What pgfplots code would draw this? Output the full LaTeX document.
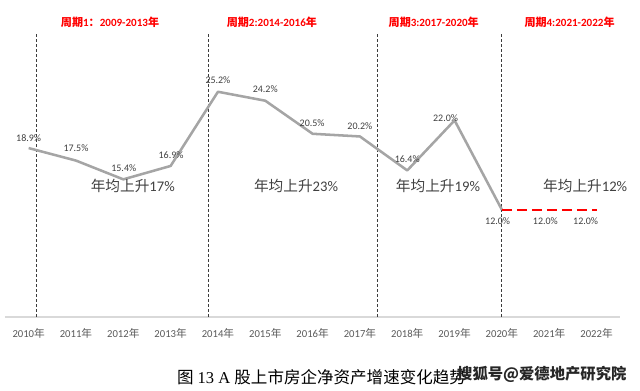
\documentclass[border=0pt]{standalone}
\usepackage{fontspec}
\setmainfont{Carlito}
\newfontfamily\cjk{Noto Sans CJK SC}
\newfontfamily\capserif{Liberation Serif}
\usepackage{pgfplots}
\pgfplotsset{compat=1.18}
\definecolor{lgray}{RGB}{165,165,165}
\definecolor{axgray}{RGB}{217,217,217}
\definecolor{txtgray}{RGB}{64,64,64}
\definecolor{tickgray}{RGB}{89,89,89}
\definecolor{vgray}{RGB}{60,60,60}
\begin{document}
\begin{tikzpicture}[x=1pt,y=1pt]
\useasboundingbox (-3.75,-55.5) rectangle (476.25,237.75);
\begin{axis}[
  at={(0,0)}, anchor=south west,
  scale only axis, width=461.4pt, height=214.5pt,
  xmin=-0.5, xmax=12.5, ymin=0, ymax=32,
  axis x line=bottom, axis y line=none,
  x axis line style={draw=axgray, line width=1.1pt, -},
  xtick={0,...,12}, major tick length=0pt,
  xticklabels={2010{\cjk 年},2011{\cjk 年},2012{\cjk 年},2013{\cjk 年},2014{\cjk 年},2015{\cjk 年},2016{\cjk 年},2017{\cjk 年},2018{\cjk 年},2019{\cjk 年},2020{\cjk 年},2021{\cjk 年},2022{\cjk 年}},
  xticklabel style={font=\fontsize{8}{9}\selectfont, text=tickgray, yshift=-5pt},
  clip=false,
]
% vertical dashed period separators
\addplot[vgray, line width=0.6pt, dash pattern=on 2.25pt off 1.5pt] coordinates {(0.17,0)(0.17,31.8)};
\addplot[vgray, line width=0.6pt, dash pattern=on 2.25pt off 1.5pt] coordinates {(3.80,0)(3.80,31.8)};
\addplot[vgray, line width=0.6pt, dash pattern=on 2.25pt off 1.5pt] coordinates {(7.37,0)(7.37,31.8)};
\addplot[vgray, line width=0.6pt, dash pattern=on 2.25pt off 1.5pt] coordinates {(9.99,0)(9.99,31.8)};
% main series
\addplot[lgray, line width=1.9pt, line join=round] coordinates {
 (0,18.9)(1,17.5)(2,15.4)(3,16.9)(4,25.2)(5,24.2)(6,20.5)(7,20.2)(8,16.4)(9,22.0)(10,12.0)};
% forecast
\addplot[red, line width=1.6pt, dash pattern=on 7.5pt off 3.75pt] coordinates {(10,12.0)(11,12.0)(12,12.0)};
% data labels
\begin{scope}[every node/.style={font=\fontsize{7.5}{9}\selectfont, text=txtgray}]
\node at (axis cs:0,20.02) {18.9\%};
\node at (axis cs:1,18.85) {17.5\%};
\node at (axis cs:2.01,16.67) {15.4\%};
\node at (axis cs:3.01,18.12) {16.9\%};
\node at (axis cs:4,26.51) {25.2\%};
\node at (axis cs:5,25.5) {24.2\%};
\node at (axis cs:5.99,21.7) {20.5\%};
\node at (axis cs:7,21.36) {20.2\%};
\node at (axis cs:8,17.67) {16.4\%};
\node at (axis cs:8.81,22.26) {22.0\%};
\node at (axis cs:9.91,10.74) {12.0\%};
\node at (axis cs:10.92,10.74) {12.0\%};
\node at (axis cs:11.77,10.74) {12.0\%};
\end{scope}
% period titles
\begin{scope}[every node/.style={font=\fontsize{8.3}{10}\selectfont\bfseries, text=red}]
\node at (axis cs:1.72,33.0) {{\cjk\bfseries 周期}1{\cjk\bfseries ：}2009-2013{\cjk\bfseries 年}};
\node at (axis cs:5.14,33.0) {{\cjk\bfseries 周期}2:2014-2016{\cjk\bfseries 年}};
\node at (axis cs:8.56,33.0) {{\cjk\bfseries 周期}3:2017-2020{\cjk\bfseries 年}};
\node at (axis cs:11.43,33.0) {{\cjk\bfseries 周期}4:2021-2022{\cjk\bfseries 年}};
\end{scope}
% annual rise labels
\begin{scope}[every node/.style={font=\fontsize{11}{13}\selectfont, text=txtgray}]
\node at (axis cs:2.20,14.65) {{\cjk 年均上升}17\%};
\node at (axis cs:5.65,14.65) {{\cjk 年均上升}23\%};
\node at (axis cs:8.65,14.65) {{\cjk 年均上升}19\%};
\node at (axis cs:11.76,14.65) {{\cjk 年均上升}12\%};
\end{scope}
% caption and watermark
\node[anchor=west, font=\fontsize{12.4}{14}\selectfont, text=black, inner sep=0pt] at (axis cs:3.13,-6.71) {{\cjk 图}{\capserif\ 13 A }{\cjk 股上市房企净资产增速变化趋势}};
\node[anchor=west, font=\cjk\bfseries\fontsize{11.5}{13}\selectfont, text=black!85, inner sep=0pt] at (axis cs:9.05,-6.38) {搜狐号@爱德地产研究院};
\end{axis}
\end{tikzpicture}
\end{document}
